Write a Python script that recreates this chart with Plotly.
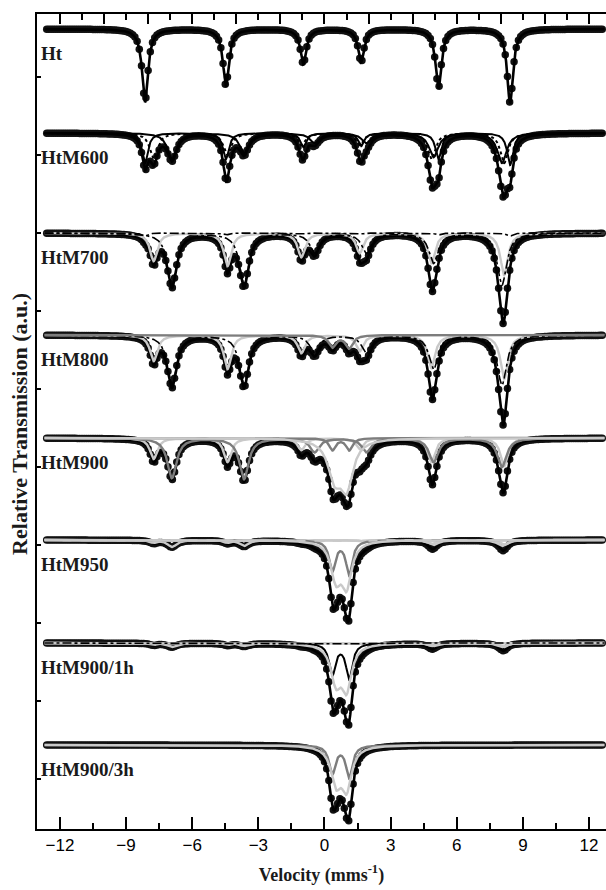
import numpy as np
import plotly.graph_objects as go

# Measured velocity channels (mm/s) and a fine grid for the fitted curves
channels = np.round(np.arange(-12.6, 12.61, 0.1), 2)
fine = np.linspace(-12.7, 12.7, 2541)

# Line positions of the subspectra (mm/s)
HEMATITE = [-8.14, -4.47, -0.96, 1.66, 5.17, 8.42]
MAG_A = [-7.75, -4.40, -1.05, 1.60, 4.85, 8.15]
MAG_B = [-6.92, -3.65, -0.45, 1.90, 4.95, 8.05]
WUS_1 = [0.36, 1.12]
WUS_2 = [0.52, 1.00]
WUS_3 = [0.45, 1.00]
BROAD = [0.75]

SAMPLES = ["Ht", "HtM600", "HtM700", "HtM800", "HtM900", "HtM950",
           "HtM900/1h", "HtM900/3h"]

# Absorption depths of each line (relative transmission units) and widths
# component = (positions, depths, fwhm, style)
SPECTRA = [
    [(HEMATITE, [7.3, 5.7, 3.5, 3.3, 5.9, 7.4], 0.32, "total")],
    [(HEMATITE, [3.0, 2.6, 1.4, 1.3, 2.6, 3.2], 0.32, "black"),
     (MAG_A, [2.6, 2.2, 1.2, 1.2, 2.6, 3.0], 0.42, "dot"),
     (MAG_B, [2.6, 2.0, 1.0, 1.0, 2.4, 3.0], 0.50, "black")],
    [(MAG_A, [2.8, 3.3, 2.4, 2.0, 3.0, 4.2], 0.40, "light"),
     (MAG_B, [5.3, 5.2, 2.0, 2.0, 3.0, 5.2], 0.50, "dashdot"),
     (HEMATITE, [0.3, 0.2, 0.1, 0.1, 0.2, 0.3], 0.32, "dashdot")],
    [(MAG_A, [2.6, 3.4, 1.8, 1.6, 3.3, 4.4], 0.40, "light"),
     (MAG_B, [5.1, 5.0, 1.8, 1.8, 3.4, 5.0], 0.50, "dashdot"),
     (WUS_1, [1.2, 1.3], 0.40, "dark")],
    [(MAG_A, [2.1, 2.4, 1.2, 1.1, 2.4, 2.8], 0.40, "light"),
     (MAG_B, [4.0, 4.1, 1.4, 1.4, 2.4, 2.9], 0.50, "dark"),
     (WUS_1, [1.2, 1.2], 0.35, "dark"),
     (WUS_3, [3.6, 4.6], 0.70, "light")],
    [(MAG_A, [0.3, 0.3, 0.1, 0.1, 0.4, 0.5], 0.40, "light"),
     (MAG_B, [0.7, 0.6, 0.2, 0.2, 0.5, 0.6], 0.50, "light"),
     (WUS_1, [3.0, 3.4], 0.35, "dark"),
     (WUS_2, [3.6, 4.3], 0.55, "light"),
     (BROAD, [0.1], 1.6, "dashlight")],
    [(MAG_A, [0.2, 0.2, 0.1, 0.1, 0.3, 0.4], 0.40, "light"),
     (MAG_B, [0.4, 0.3, 0.1, 0.1, 0.3, 0.4], 0.50, "light"),
     (WUS_1, [3.1, 3.5], 0.35, "black"),
     (WUS_2, [3.6, 4.3], 0.55, "light"),
     (BROAD, [0.1], 1.6, "dashdot")],
    [(WUS_1, [2.8, 3.2], 0.35, "dark"),
     (WUS_2, [3.5, 4.1], 0.55, "light")],
]

# Vertical stacking of the spectra
BASELINES = [80.0, 69.6, 59.6, 49.4, 39.1, 28.9, 18.6, 8.4]

STYLES = {
    "total": dict(color="black", width=2.6, dash="solid"),
    "black": dict(color="black", width=2.0, dash="solid"),
    "dot": dict(color="black", width=2.0, dash="dot"),
    "dashdot": dict(color="black", width=1.6, dash="dashdot"),
    "dark": dict(color="#7d7d7d", width=2.4, dash="solid"),
    "light": dict(color="#c9c9c9", width=2.4, dash="solid"),
    "dashlight": dict(color="#c9c9c9", width=2.2, dash="dash"),
}

SERIF = "Liberation Serif"


def absorption(v, positions, depths, fwhm):
    out = np.zeros_like(v)
    for c, d in zip(positions, depths):
        out += d / (1.0 + ((v - c) / (fwhm / 2.0)) ** 2)
    return out


fig = go.Figure()
for label, comps, base in zip(SAMPLES, SPECTRA, BASELINES):
    tot_fine = sum(absorption(fine, p, d, w) for p, d, w, _ in comps)
    tot_ch = sum(absorption(channels, p, d, w) for p, d, w, _ in comps)
    fig.add_trace(go.Scatter(
        x=channels, y=base - tot_ch, mode="markers",
        marker=dict(color="#111111", size=7.5), showlegend=False,
        hoverinfo="skip"))
    fig.add_trace(go.Scatter(
        x=fine, y=base - tot_fine, mode="lines",
        line=STYLES["total"], showlegend=False, hoverinfo="skip"))
    if len(comps) > 1:
        for p, d, w, style in comps:
            fig.add_trace(go.Scatter(
                x=fine, y=base - absorption(fine, p, d, w), mode="lines",
                line=STYLES[style], showlegend=False, hoverinfo="skip"))
    fig.add_annotation(
        x=-12.97, y=base - 2.4, xref="x", yref="y", text=f"<b>{label}</b>",
        showarrow=False, xanchor="left", yanchor="middle",
        font=dict(family=SERIF, size=19, color="#1a1a1a"))

# Top axis: ticks every 1 mm/s, longer ones every 2 mm/s
fig.add_trace(go.Scatter(x=[0], y=[50], xaxis="x2", mode="markers",
                         marker=dict(opacity=0), showlegend=False,
                         hoverinfo="skip"))

fig.update_layout(
    width=606, height=890,
    margin=dict(l=37, r=0, t=14, b=61),
    plot_bgcolor="white", paper_bgcolor="white",
    xaxis=dict(range=[-13.04, 12.77], tickmode="linear", tick0=0, dtick=3,
               ticks="inside", ticklen=12, tickwidth=2, tickcolor="black",
               minor=dict(tick0=0, dtick=1.5, ticks="inside", ticklen=6,
                          tickwidth=2, tickcolor="black"),
               showline=True, linecolor="black", linewidth=2, mirror=False,
               showgrid=False, zeroline=False,
               tickfont=dict(family="Liberation Sans", size=17, color="black"),
               title=dict(text="<b>Velocity (mms<sup>-1</sup>)</b>",
                          font=dict(family=SERIF, size=18, color="#1a1a1a"),
                          standoff=14)),
    xaxis2=dict(range=[-13.04, 12.77], overlaying="x", side="top",
                tickmode="linear", tick0=0, dtick=2, ticks="inside",
                ticklen=10, tickwidth=2, tickcolor="black",
                minor=dict(tick0=0, dtick=1, ticks="inside", ticklen=6,
                           tickwidth=2, tickcolor="black"),
                showticklabels=False, showline=True, linecolor="black",
                linewidth=2, showgrid=False, zeroline=False),
    yaxis=dict(range=[0, 81.5], showticklabels=False, ticks="inside",
               ticklen=4, tickwidth=1.5, tickcolor="black", tick0=5.0,
               dtick=7.8, showline=True, linecolor="black", linewidth=2,
               showgrid=False, zeroline=False),
)

fig.add_annotation(
    x=-0.03, y=0.497, xref="paper", yref="paper", xanchor="center",
    yanchor="middle", text="<b>Relative Transmission (a.u.)</b>",
    textangle=-90, showarrow=False,
    font=dict(family=SERIF, size=22, color="#1a1a1a"))

fig.write_html("out.html")
